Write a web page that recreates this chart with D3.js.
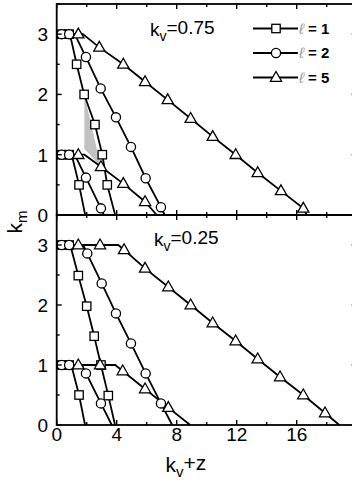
<!DOCTYPE html>
<html lang="en">
<head>
    <meta charset="UTF-8">
    <title>k_m vs k_v+z</title>
    <script src="https://d3js.org/d3.v7.min.js"></script>
    <style>
        body {
            margin: 0;
            background: #fff;
            font-family: "Liberation Sans", Arial, sans-serif;
        }
        .tick-label { font-size: 19px; fill: #000; }
        .note { font-size: 19px; fill: #000; }
        .axis-title { font-size: 21px; fill: #000; }
        .legend-text { font-size: 15px; font-weight: bold; fill: #000; }
    </style>
</head>
<body>
    <div id="chart"></div>
    <script>
        // each point: [k_v+z, k_m, hasMarker]
        // panel k_v = 0.75
        const top_l1_hi = [[0,3,0],[0.33,3,1],[0.83,3,1],[0.88,3,0],[1.33,2.5,1],[1.83,2.0,1],[2.55,1.5,1],[3.04,1.0,1],[3.37,0.5,1],[3.9,0,0]];
        const top_l1_lo = [[0,1,0],[0.33,1,1],[0.83,1,1],[1.0,1,0],[1.49,0.5,1],[1.9,0,0]];
        const top_l2_hi = [[0,3,0],[0.33,3,1],[0.83,3,1],[1.2,3,0],[1.95,2.62,1],[2.93,2.1,1],[3.95,1.62,1],[4.95,1.13,1],[5.93,0.61,1],[6.95,0.13,1],[7.2,0,0]];
        const top_l2_lo = [[0,1,0],[0.33,1,1],[0.83,1,1],[1.2,1,0],[1.95,0.62,1],[2.95,0.11,1],[3.15,0,0]];
        const top_l5_hi = [[0,3,0],[1.44,3,1],[1.75,3,0],[2.84,2.78,1],[4.44,2.5,1],[5.89,2.21,1],[7.4,1.91,1],[8.93,1.6,1],[10.4,1.3,1],[11.93,1.0,1],[13.4,0.7,1],[14.95,0.4,1],[16.44,0.11,1],[16.67,0,0]];
        const top_l5_lo = [[0,1,0],[1.44,1,1],[1.85,1,0],[2.95,0.8,1],[4.44,0.52,1],[5.89,0.22,1],[6.67,0,0]];
        const shade = [[1.84,2.0],[1.84,1.1],[2.95,0.8]];

        // panel k_v = 0.25
        const bot_l1_hi = [[0,3,0],[0.33,3,1],[0.83,3,1],[0.9,3,0],[1.44,2.49,1],[2.0,1.98,1],[2.5,1.48,1],[2.95,1.0,1],[3.44,0.49,1],[3.89,0,0]];
        const bot_l1_lo = [[0,1,0],[0.33,1,1],[0.83,1,1],[0.97,1,0],[1.49,0.5,1],[1.89,0,0]];
        const bot_l2_hi = [[0,3,0],[0.33,3,1],[0.83,3,1],[1.76,3,0],[2.04,2.86,1],[3.0,2.36,1],[3.95,1.86,1],[4.95,1.36,1],[5.93,0.86,1],[6.95,0.36,1],[7.7,0,0]];
        const bot_l2_lo = [[0,1,0],[0.33,1,1],[0.83,1,1],[1.67,1,0],[1.95,0.86,1],[2.95,0.36,1],[3.67,0,0]];
        const bot_l5_hi = [[0,3,0],[1.44,3,1],[2.89,3,1],[4.1,3,0],[4.49,2.92,1],[5.89,2.61,1],[7.44,2.3,1],[8.93,2.0,1],[10.4,1.7,1],[11.93,1.4,1],[13.4,1.1,1],[14.89,0.8,1],[16.44,0.5,1],[17.89,0.2,1],[18.84,0,0]];
        const bot_l5_lo = [[0,1,0],[1.44,1,1],[2.89,1,1],[3.9,1,0],[4.4,0.9,1],[5.89,0.6,1],[7.44,0.29,1],[8.9,0,0]];

        const xTicks = [0, 4, 8, 12, 16, 20];
        const xMinor = [2, 6, 10, 14, 18];
        const yTicks = [0, 1, 2, 3];
        const yMinor = [0.5, 1.5, 2.5, 3.5];
        const legendLabels = ['1', '2', '5'];
        const legendShapes = ['square', 'circle', 'triangle'];

        const width = 352, height = 487;
        const svg = d3.select('#chart').append('svg')
            .attr('width', width)
            .attr('height', height);

        const x = d3.scaleLinear().domain([0, 20]).range([56.7, 356.7]);

        const panels = [
            { y: d3.scaleLinear().domain([0, 3.5]).range([215, 4]), note: '0.75', noteX: 150, noteY: 36,
              series: [[top_l1_hi, 'square'], [top_l1_lo, 'square'], [top_l2_hi, 'circle'], [top_l2_lo, 'circle'], [top_l5_hi, 'triangle'], [top_l5_lo, 'triangle']],
              shade: shade },
            { y: d3.scaleLinear().domain([0, 3.5]).range([425, 215]), note: '0.25', noteX: 154, noteY: 246,
              series: [[bot_l1_hi, 'square'], [bot_l1_lo, 'square'], [bot_l2_hi, 'circle'], [bot_l2_lo, 'circle'], [bot_l5_hi, 'triangle'], [bot_l5_lo, 'triangle']],
              shade: null }
        ];

        function drawMarker(g, shape, cx, cy) {
            if (shape === 'square') {
                g.append('rect').attr('x', cx - 4.2).attr('y', cy - 4.2).attr('width', 8.4).attr('height', 8.4)
                    .attr('fill', '#fff').attr('stroke', '#000').attr('stroke-width', 1.3);
            } else if (shape === 'circle') {
                g.append('circle').attr('cx', cx).attr('cy', cy).attr('r', 4.6)
                    .attr('fill', '#fff').attr('stroke', '#000').attr('stroke-width', 1.3);
            } else {
                g.append('path').attr('d', `M${cx},${cy - 6}L${cx + 5.6},${cy + 3.8}L${cx - 5.6},${cy + 3.8}Z`)
                    .attr('fill', '#fff').attr('stroke', '#000').attr('stroke-width', 1.3);
            }
        }

        const line = d3.line();

        panels.forEach(function(p) {
            const y = p.y;
            const g = svg.append('g');
            const x0 = x.range()[0], x1 = x.range()[1];
            const yb = y.range()[0], yt = y.range()[1];

            if (p.shade) {
                g.append('path')
                    .attr('d', line(p.shade.map(d => [x(d[0]), y(d[1])])) + 'Z')
                    .attr('fill', '#c2c2c2');
            }

            p.series.forEach(function(s) {
                g.append('path')
                    .attr('d', line(s[0].map(d => [x(d[0]), y(d[1])])))
                    .attr('fill', 'none')
                    .attr('stroke', '#000')
                    .attr('stroke-width', 1.8);
            });
            p.series.forEach(function(s) {
                s[0].filter(d => d[2]).forEach(d => drawMarker(g, s[1], x(d[0]), y(d[1])));
            });

            // frame
            g.append('rect').attr('x', x0).attr('y', yt).attr('width', x1 - x0).attr('height', yb - yt)
                .attr('fill', 'none').attr('stroke', '#000').attr('stroke-width', 1.8);

            // y ticks, left and right, inward
            yTicks.concat(yMinor).forEach(function(v) {
                const len = Number.isInteger(v) ? 5 : 3;
                g.append('line').attr('x1', x0).attr('x2', x0 + len).attr('y1', y(v)).attr('y2', y(v))
                    .attr('stroke', '#000').attr('stroke-width', 1.4);
                g.append('line').attr('x1', x1).attr('x2', x1 - len).attr('y1', y(v)).attr('y2', y(v))
                    .attr('stroke', '#000').attr('stroke-width', 1.4);
            });
            yTicks.forEach(function(v) {
                g.append('text').attr('class', 'tick-label')
                    .attr('x', 48).attr('y', y(v)).attr('dy', '0.36em')
                    .attr('text-anchor', 'end').text(v);
            });

            // x ticks, top and bottom, inward
            xTicks.concat(xMinor).forEach(function(v) {
                const len = xTicks.includes(v) ? 5 : 3;
                g.append('line').attr('x1', x(v)).attr('x2', x(v)).attr('y1', yb).attr('y2', yb - len)
                    .attr('stroke', '#000').attr('stroke-width', 1.4);
                g.append('line').attr('x1', x(v)).attr('x2', x(v)).attr('y1', yt).attr('y2', yt + len)
                    .attr('stroke', '#000').attr('stroke-width', 1.4);
            });

            const note = g.append('text').attr('class', 'note').attr('x', p.noteX).attr('y', p.noteY);
            note.append('tspan').text('k');
            note.append('tspan').attr('dy', '0.35em').attr('font-size', '14px').text('v');
            note.append('tspan').attr('dy', '-0.35em').attr('font-size', '19px').text('=' + p.note);
        });

        // x tick labels under the lower panel
        const yLow = panels[1].y;
        xTicks.filter(v => v < 20).forEach(function(v) {
            svg.append('text').attr('class', 'tick-label')
                .attr('x', x(v)).attr('y', yLow(0) + 16).attr('text-anchor', 'middle').text(v);
        });

        // axis titles
        const xt = svg.append('text').attr('class', 'axis-title')
            .attr('x', 186).attr('y', 472).attr('text-anchor', 'middle');
        xt.append('tspan').text('k');
        xt.append('tspan').attr('dy', '0.3em').attr('font-size', '15px').text('v');
        xt.append('tspan').attr('dy', '-0.3em').text('+z');

        const yt = svg.append('text').attr('class', 'axis-title')
            .attr('transform', 'translate(22,222) rotate(-90)').attr('text-anchor', 'middle');
        yt.append('tspan').text('k');
        yt.append('tspan').attr('dy', '0.3em').attr('font-size', '15px').text('m');

        // legend
        const legendY = d3.scalePoint().domain(legendLabels).range([28.5, 77.5]);
        legendLabels.forEach(function(lab, i) {
            const ly = legendY(lab);
            const lg = svg.append('g');
            lg.append('line').attr('x1', 253).attr('x2', 298).attr('y1', ly).attr('y2', ly)
                .attr('stroke', '#000').attr('stroke-width', i === 2 ? 2.2 : 1.8);
            drawMarker(lg, legendShapes[i], 276, ly);
            const t = lg.append('text').attr('class', 'legend-text').attr('x', 299).attr('y', ly).attr('dy', '0.36em');
            t.append('tspan').attr('font-style', 'italic').attr('font-weight', 'normal').attr('fill', '#999').text('ℓ');
            t.append('tspan').text(' = ' + lab);
        });
    </script>
</body>
</html>
